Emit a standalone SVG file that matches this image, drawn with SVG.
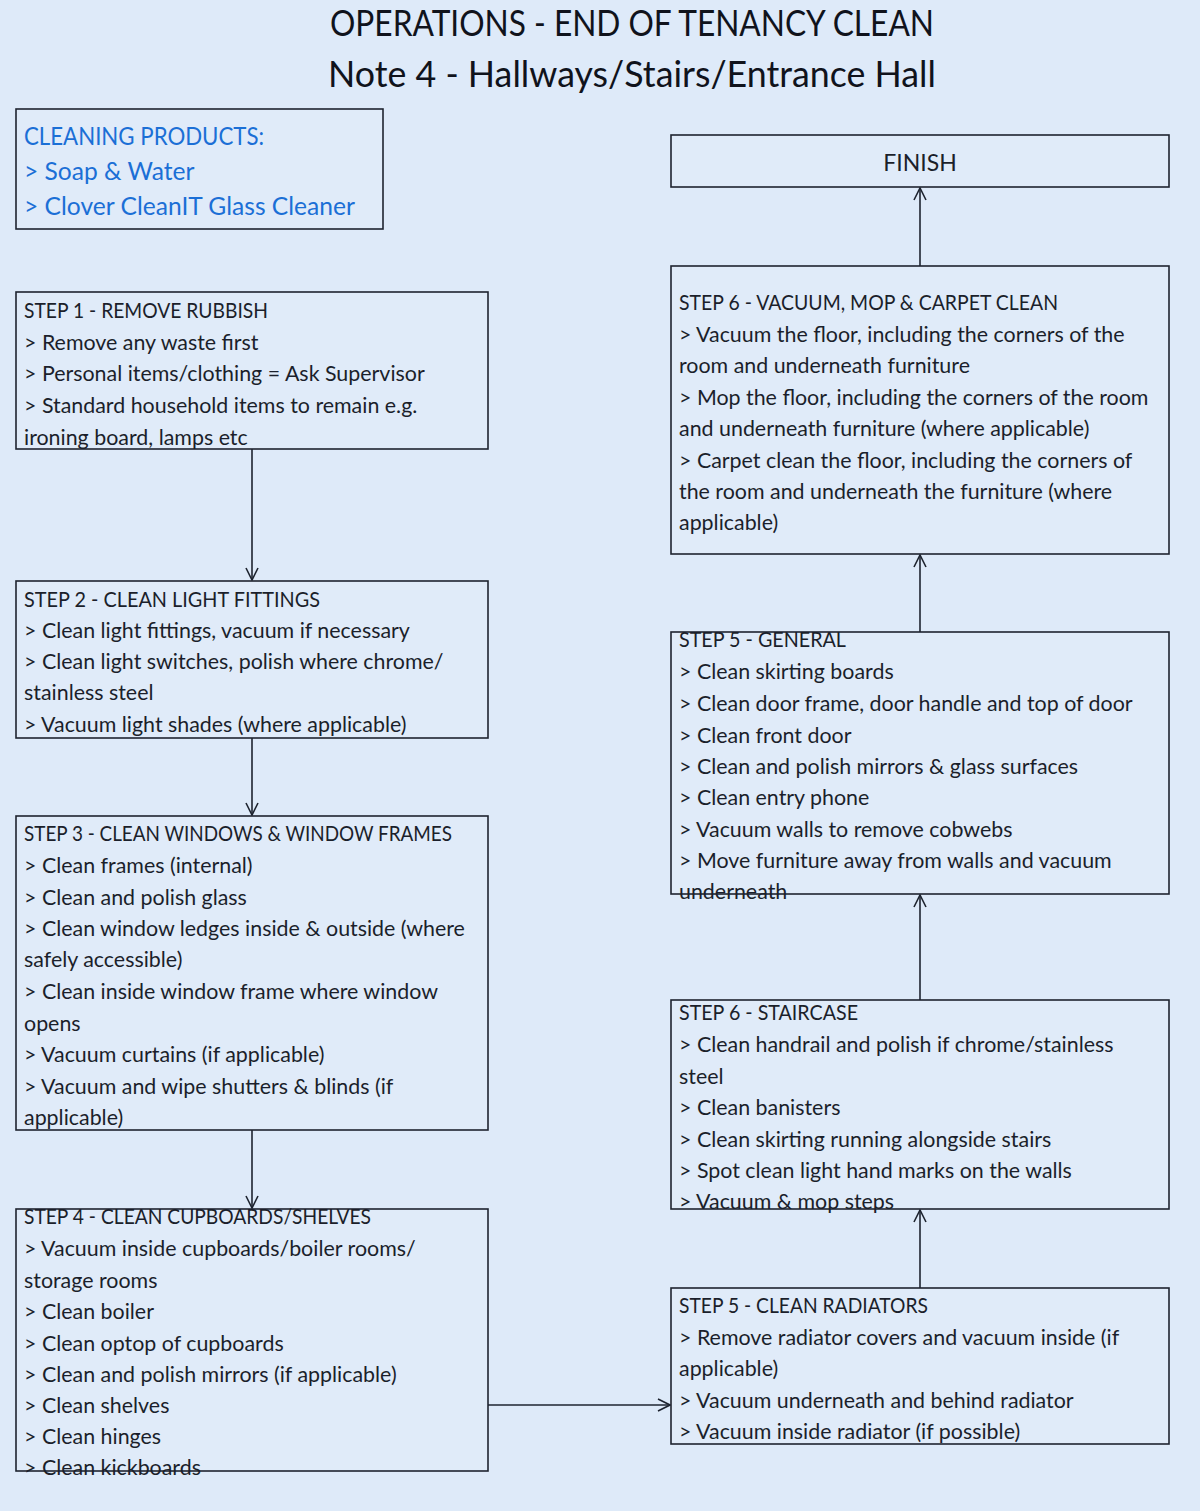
<svg xmlns="http://www.w3.org/2000/svg" width="1200" height="1511" viewBox="0 0 1200 1511">
<style>
.bg{fill:#deeaf9}
.box{fill:#e0ebf9;stroke:#1e2430;stroke-width:1.6}
.t{font-family:Lato,"Open Sans",sans-serif;font-size:21.4px;fill:#1b1f2b}
.h{font-family:Lato,"Open Sans",sans-serif;font-size:20.5px;fill:#1b1f2b}
.title{font-family:Lato,"Open Sans",sans-serif;font-size:36px;fill:#10131c}
.prod{font-family:Lato,"Open Sans",sans-serif;font-size:24.6px;fill:#1b6fd6}
.fin{font-family:Lato,"Open Sans",sans-serif;font-size:23px;fill:#1b1f2b;text-anchor:middle}
.conn{fill:none;stroke:#1e2430;stroke-width:1.6}
</style>
<defs>
<marker id="arr" viewBox="0 0 14 14" refX="13" refY="7" markerWidth="14" markerHeight="14" markerUnits="userSpaceOnUse" orient="auto">
<path d="M1,1 L13,7 L1,13" fill="none" stroke="#1e2430" stroke-width="1.6"/>
</marker>
</defs>
<rect class="bg" x="0" y="0" width="1200" height="1511"/>
<g id="title">
<text class="title" x="330" y="36" textLength="604" lengthAdjust="spacingAndGlyphs">OPERATIONS - END OF TENANCY CLEAN</text>
<text class="title" x="328" y="87" textLength="608" lengthAdjust="spacingAndGlyphs">Note 4 - Hallways/Stairs/Entrance Hall</text>
</g>
<g id="connectors">
<line class="conn" x1="252" y1="449" x2="252" y2="580" marker-end="url(#arr)"/>
<line class="conn" x1="252" y1="738" x2="252" y2="815" marker-end="url(#arr)"/>
<line class="conn" x1="252" y1="1130" x2="252" y2="1208" marker-end="url(#arr)"/>
<line class="conn" x1="488" y1="1405" x2="670" y2="1405" marker-end="url(#arr)"/>
<line class="conn" x1="920" y1="1288" x2="920" y2="1210" marker-end="url(#arr)"/>
<line class="conn" x1="920" y1="1000" x2="920" y2="895" marker-end="url(#arr)"/>
<line class="conn" x1="920" y1="632" x2="920" y2="555" marker-end="url(#arr)"/>
<line class="conn" x1="920" y1="266" x2="920" y2="188" marker-end="url(#arr)"/>
</g>
<g id="products">
<rect class="box" x="16" y="109" width="367" height="120"/>
<text class="prod" x="24" y="145" textLength="240" lengthAdjust="spacingAndGlyphs">CLEANING PRODUCTS:</text>
<text class="prod" x="24" y="180">&gt; Soap &amp; Water</text>
<text class="prod" x="24" y="215">&gt; Clover CleanIT Glass Cleaner</text>
</g>
<g id="step1">
<rect class="box" x="16" y="292" width="472" height="157"/>
<text class="h" x="24" y="318" textLength="244" lengthAdjust="spacingAndGlyphs">STEP 1 - REMOVE RUBBISH</text>
<text class="t" x="24" y="350">&gt; Remove any waste first</text>
<text class="t" x="24" y="381">&gt; Personal items/clothing = Ask Supervisor</text>
<text class="t" x="24" y="413">&gt; Standard household items to remain e.g.</text>
<text class="t" x="24" y="445">ironing board, lamps etc</text>
</g>
<g id="step2">
<rect class="box" x="16" y="581" width="472" height="157"/>
<text class="h" x="24" y="607" textLength="296" lengthAdjust="spacingAndGlyphs">STEP 2 - CLEAN LIGHT FITTINGS</text>
<text class="t" x="24" y="638">&gt; Clean light fittings, vacuum if necessary</text>
<text class="t" x="24" y="669">&gt; Clean light switches, polish where chrome/</text>
<text class="t" x="24" y="700">stainless steel</text>
<text class="t" x="24" y="732">&gt; Vacuum light shades (where applicable)</text>
</g>
<g id="step3">
<rect class="box" x="16" y="816" width="472" height="314"/>
<text class="h" x="24" y="841" textLength="428" lengthAdjust="spacingAndGlyphs">STEP 3 - CLEAN WINDOWS &amp; WINDOW FRAMES</text>
<text class="t" x="24" y="873">&gt; Clean frames (internal)</text>
<text class="t" x="24" y="905">&gt; Clean and polish glass</text>
<text class="t" x="24" y="936">&gt; Clean window ledges inside &amp; outside (where</text>
<text class="t" x="24" y="967">safely accessible)</text>
<text class="t" x="24" y="999">&gt; Clean inside window frame where window</text>
<text class="t" x="24" y="1031">opens</text>
<text class="t" x="24" y="1062">&gt; Vacuum curtains (if applicable)</text>
<text class="t" x="24" y="1094">&gt; Vacuum and wipe shutters &amp; blinds (if</text>
<text class="t" x="24" y="1125">applicable)</text>
</g>
<g id="step4">
<rect class="box" x="16" y="1209" width="472" height="262"/>
<text class="h" x="24" y="1224" textLength="347" lengthAdjust="spacingAndGlyphs">STEP 4 - CLEAN CUPBOARDS/SHELVES</text>
<text class="t" x="24" y="1256">&gt; Vacuum inside cupboards/boiler rooms/</text>
<text class="t" x="24" y="1288">storage rooms</text>
<text class="t" x="24" y="1319">&gt; Clean boiler</text>
<text class="t" x="24" y="1351">&gt; Clean optop of cupboards</text>
<text class="t" x="24" y="1382">&gt; Clean and polish mirrors (if applicable)</text>
<text class="t" x="24" y="1413">&gt; Clean shelves</text>
<text class="t" x="24" y="1444">&gt; Clean hinges</text>
<text class="t" x="24" y="1475">&gt; Clean kickboards</text>
</g>
<g id="finish">
<rect class="box" x="671" y="135" width="498" height="52"/>
<text class="fin" x="920" y="171">FINISH</text>
</g>
<g id="step6-vacuum">
<rect class="box" x="671" y="266" width="498" height="288"/>
<text class="h" x="679" y="310" textLength="379" lengthAdjust="spacingAndGlyphs">STEP 6 - VACUUM, MOP &amp; CARPET CLEAN</text>
<text class="t" x="679" y="342">&gt; Vacuum the floor, including the corners of the</text>
<text class="t" x="679" y="373">room and underneath furniture</text>
<text class="t" x="679" y="405">&gt; Mop the floor, including the corners of the room</text>
<text class="t" x="679" y="436">and underneath furniture (where applicable)</text>
<text class="t" x="679" y="468">&gt; Carpet clean the floor, including the corners of</text>
<text class="t" x="679" y="499">the room and underneath the furniture (where</text>
<text class="t" x="679" y="530">applicable)</text>
</g>
<g id="step5-general">
<rect class="box" x="671" y="632" width="498" height="262"/>
<text class="h" x="679" y="647" textLength="167" lengthAdjust="spacingAndGlyphs">STEP 5 - GENERAL</text>
<text class="t" x="679" y="679">&gt; Clean skirting boards</text>
<text class="t" x="679" y="711">&gt; Clean door frame, door handle and top of door</text>
<text class="t" x="679" y="743">&gt; Clean front door</text>
<text class="t" x="679" y="774">&gt; Clean and polish mirrors &amp; glass surfaces</text>
<text class="t" x="679" y="805">&gt; Clean entry phone</text>
<text class="t" x="679" y="837">&gt; Vacuum walls to remove cobwebs</text>
<text class="t" x="679" y="868">&gt; Move furniture away from walls and vacuum</text>
<text class="t" x="679" y="899">underneath</text>
</g>
<g id="step6-staircase">
<rect class="box" x="671" y="1000" width="498" height="209"/>
<text class="h" x="679" y="1020" textLength="179" lengthAdjust="spacingAndGlyphs">STEP 6 - STAIRCASE</text>
<text class="t" x="679" y="1052">&gt; Clean handrail and polish if chrome/stainless</text>
<text class="t" x="679" y="1084">steel</text>
<text class="t" x="679" y="1115">&gt; Clean banisters</text>
<text class="t" x="679" y="1147">&gt; Clean skirting running alongside stairs</text>
<text class="t" x="679" y="1178">&gt; Spot clean light hand marks on the walls</text>
<text class="t" x="679" y="1209">&gt; Vacuum &amp; mop steps</text>
</g>
<g id="step5-radiators">
<rect class="box" x="671" y="1288" width="498" height="156"/>
<text class="h" x="679" y="1313" textLength="249" lengthAdjust="spacingAndGlyphs">STEP 5 - CLEAN RADIATORS</text>
<text class="t" x="679" y="1345">&gt; Remove radiator covers and vacuum inside (if</text>
<text class="t" x="679" y="1376">applicable)</text>
<text class="t" x="679" y="1408">&gt; Vacuum underneath and behind radiator</text>
<text class="t" x="679" y="1439">&gt; Vacuum inside radiator (if possible)</text>
</g>
</svg>
